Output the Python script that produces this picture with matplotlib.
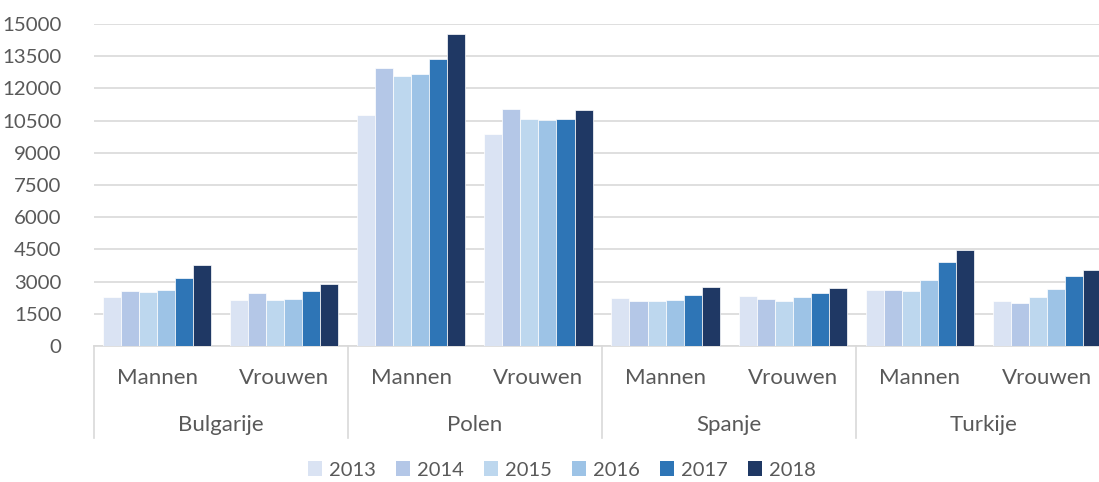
import matplotlib
matplotlib.use("Agg")
import matplotlib.pyplot as plt
import matplotlib.transforms as mtransforms
from matplotlib.patches import Patch
import numpy as np

plt.rcParams['font.family'] = ['Lato', 'DejaVu Sans']

countries = ["Bulgarije", "Polen", "Spanje", "Turkije"]
genders = ["Mannen", "Vrouwen"]
years = ["2013", "2014", "2015", "2016", "2017", "2018"]
colors = ["#DAE3F3", "#B4C7E7", "#BDD7EE", "#9DC3E6", "#2E75B6", "#1F3864"]

# values per category (Bulgarije M, Bulgarije V, Polen M, Polen V, Spanje M, Spanje V, Turkije M, Turkije V)
v2013 = [2270, 2160, 10750, 9880, 2240, 2330, 2610, 2100]
v2014 = [2580, 2450, 12950, 11050, 2080, 2180, 2590, 2000]
v2015 = [2530, 2140, 12590, 10560, 2100, 2100, 2580, 2270]
v2016 = [2610, 2180, 12670, 10530, 2140, 2280, 3090, 2670]
v2017 = [3180, 2550, 13370, 10590, 2390, 2480, 3900, 3250]
v2018 = [3760, 2870, 14530, 11010, 2730, 2690, 4470, 3560]
series = [v2013, v2014, v2015, v2016, v2017, v2018]

yticks = [0, 1500, 3000, 4500, 6000, 7500, 9000, 10500, 12000, 13500, 15000]

text_color = "#595959"
grid_color = "#D9D9D9"

fig = plt.figure(figsize=(10.99, 4.82), dpi=100)
ax = fig.add_axes([93.5 / 1099, 1 - 346 / 482, (1110.5 - 93.5) / 1099, 322 / 482])

n_cat = len(countries) * len(genders)
x = np.arange(n_cat) + 0.5
bw = 0.142
for i, (vals, col) in enumerate(zip(series, colors)):
    ax.bar(x + (i - 2.5) * bw, vals, width=bw, color=col, edgecolor="white",
           linewidth=0.5, zorder=3, label=years[i])

ax.set_xlim(0, n_cat)
ax.set_ylim(0, 15000)
ax.set_yticks(yticks)
ax.set_yticklabels([str(t) for t in yticks], fontsize=14.7, color=text_color)
ax.tick_params(axis="y", length=0, pad=23)
ax.set_xticks([])
ax.yaxis.grid(True, color=grid_color, linewidth=1.2, zorder=0)
for s in ["top", "right", "left"]:
    ax.spines[s].set_visible(False)
ax.spines["bottom"].set_color(grid_color)
ax.spines["bottom"].set_linewidth(1.2)

trans = mtransforms.blended_transform_factory(ax.transData, ax.transAxes)
labels = [g for c in countries for g in genders]
for xi, lab in zip(x, labels):
    ax.text(xi, -0.098, lab, transform=trans, ha="center", va="center",
            fontsize=16, color=text_color, clip_on=False)
for j, c in enumerate(countries):
    ax.text(2 * j + 1, -0.245, c, transform=trans, ha="center", va="center",
            fontsize=16, color=text_color, clip_on=False)
for j in range(len(countries) + 1):
    ax.plot([2 * j, 2 * j], [0, -0.286], transform=trans, color=grid_color,
            linewidth=1.2, clip_on=False)

handles = [Patch(facecolor=c, edgecolor="none") for c in colors]
leg = fig.legend(handles, years, loc="center", bbox_to_anchor=(562 / 1099, 1 - 470 / 482),
                 ncol=6, frameon=False, fontsize=14.5, handlelength=0.7, handleheight=0.7,
                 handletextpad=0.35, columnspacing=1.0)
for t in leg.get_texts():
    t.set_color(text_color)

fig.savefig("out.png", dpi=100)
